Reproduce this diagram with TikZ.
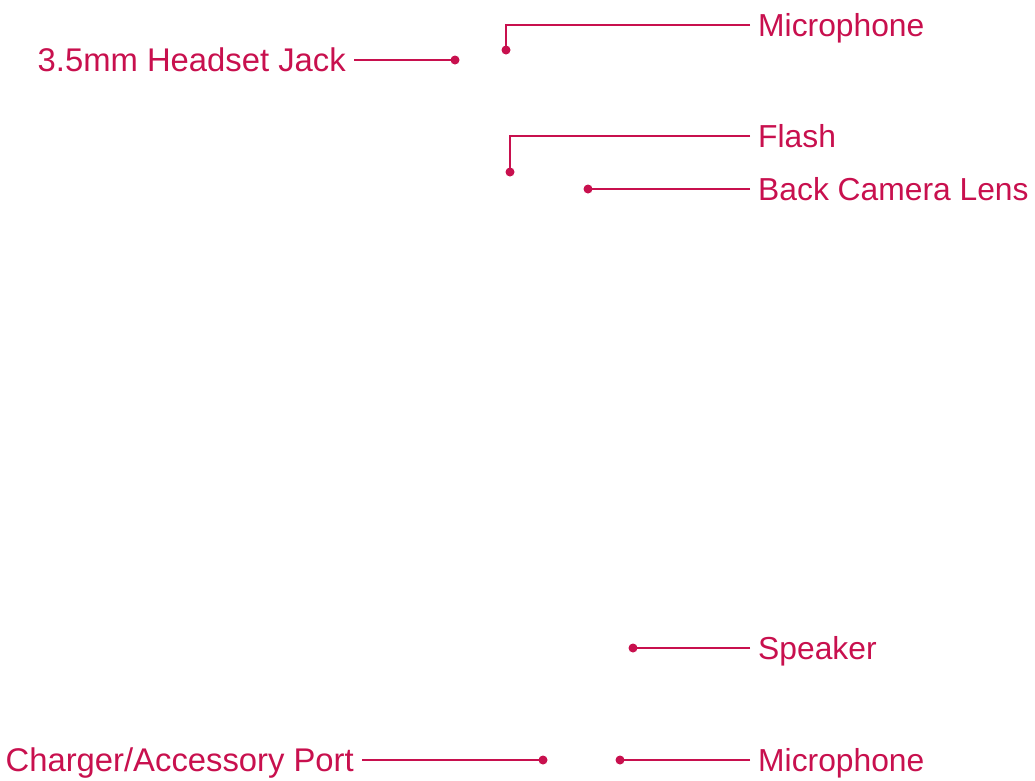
\documentclass[tikz,border=0pt]{standalone}
\usepackage{fontspec}
\setmainfont{Liberation Sans}
\usepackage{tikz}
\usetikzlibrary{positioning}

\definecolor{callout}{HTML}{C8104E}

\begin{document}
\begin{tikzpicture}[
    x=1pt, y=-1pt,
    lbl/.style={text=callout, font=\fontsize{31.8}{36}\selectfont, text height=23pt, text depth=0pt, inner ysep=0pt, inner xsep=8pt},
    lbll/.style={lbl, font=\fontsize{32.8}{37}\selectfont},
    dot/.style={circle, fill=callout, minimum size=9pt, inner sep=0pt},
    lead/.style={draw=callout, line width=2.6pt}
  ]
    \useasboundingbox (0,0) rectangle (1035,780);

    % labels on the right
    \node[lbl, anchor=west] (mictop) at (750,25) {Microphone};
    \node[lbl, anchor=west] (flash) at (750,136) {Flash};
    \node[lbl, anchor=west] (cam) at (750,189) {Back Camera Lens};
    \node[lbl, anchor=west] (spk) at (750,648) {Speaker};
    \node[lbl, anchor=west] (micbot) at (750,760) {Microphone};

    % labels on the left
    \node[lbll, anchor=east] (jack) at (354,60) {3.5mm Headset Jack};
    \node[lbll, anchor=east] (port) at (362,760) {Charger/Accessory Port};

    % end points
    \node[dot] (mictopdot) at (506,50) {};
    \node[dot] (jackdot) at (455,60) {};
    \node[dot] (flashdot) at (510,172) {};
    \node[dot] (camdot) at (588,189) {};
    \node[dot] (spkdot) at (633,648) {};
    \node[dot] (portdot) at (543,760) {};
    \node[dot] (micbotdot) at (620,760) {};

    \draw[lead] (mictop.west) -| (mictopdot.center);
    \draw[lead] (flash.west) -| (flashdot.center);
    \draw[lead] (cam.west) -- (camdot.center);
    \draw[lead] (spk.west) -- (spkdot.center);
    \draw[lead] (micbot.west) -- (micbotdot.center);
    \draw[lead] (jack.east) -- (jackdot.center);
    \draw[lead] (port.east) -- (portdot.center);
  \end{tikzpicture}
\end{document}
